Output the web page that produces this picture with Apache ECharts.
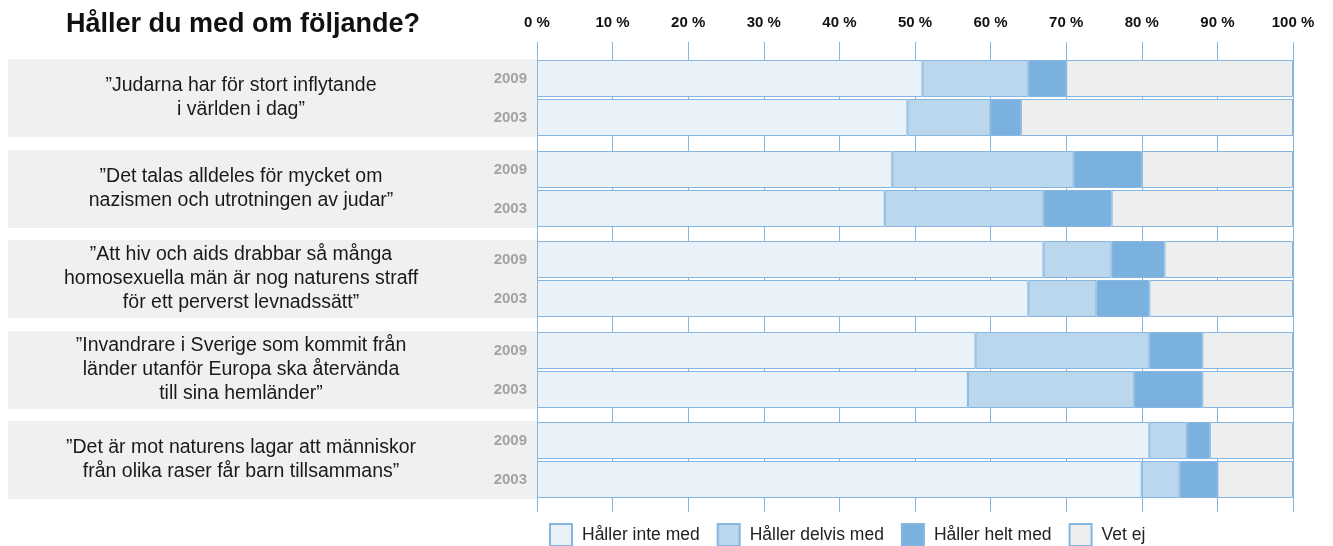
<!DOCTYPE html>
<html>
<head>
<meta charset="utf-8">
<script src="https://cdn.jsdelivr.net/npm/echarts@6/dist/echarts.min.js"></script>
<style>
  html, body { margin: 0; padding: 0; background: #fff; }
  #main { width: 1333px; height: 546px; }
</style>
</head>
<body>
<div id="main"></div>
<script>
var years = ['2009', '2003'];
var questions = [
  '”Judarna har för stort inflytande\ni världen i dag”',
  '”Det talas alldeles för mycket om\nnazismen och utrotningen av judar”',
  '”Att hiv och aids drabbar så många\nhomosexuella män är nog naturens straff\nför ett perverst levnadssätt”',
  '”Invandrare i Sverige som kommit från\nländer utanför Europa ska återvända\ntill sina hemländer”',
  '”Det är mot naturens lagar att människor\nfrån olika raser får barn tillsammans”'
];
// two values per question: 2009, 2003
var inteMed   = [51, 49, 47, 46, 67, 65, 58, 57, 81, 80];
var delvisMed = [14, 11, 24, 21,  9,  9, 23, 22,  5,  5];
var heltMed   = [ 5,  4,  9,  9,  7,  7,  7,  9,  3,  5];
var vetEj     = [30, 36, 20, 24, 17, 19, 12, 12, 11, 10];
var seriesNames = ['Håller inte med', 'Håller delvis med', 'Håller helt med', 'Vet ej'];

var font = '"Liberation Sans", Arial, Helvetica, sans-serif';
var lineBlue = '#86b6df';
var colors = ['#e9f1f9', '#bbd7ed', '#7bb1de', '#edeeee'];
var seriesData = [inteMed, delvisMed, heltMed, vetEj];

var gLeft = 537, gRight = 40;
var groupTop = 59, groupStep = 90.5, groupH = 78;

var grids = [{ left: gLeft, right: gRight, top: 42, bottom: 34 }];
var xAxes = [{
  gridIndex: 0, type: 'value', position: 'top', min: 0, max: 100, interval: 10,
  axisLine: { show: false }, axisTick: { show: false },
  axisLabel: { formatter: '{value} %', color: '#111', fontWeight: 'bold', fontSize: 15, fontFamily: font, margin: 12 },
  splitLine: { show: true, lineStyle: { color: lineBlue, width: 1 } }
}];
var yAxes = [{ gridIndex: 0, type: 'value', show: false }];
var series = [];
var graphics = [];

questions.forEach(function (q, g) {
  var top = Math.round(groupTop + g * groupStep);
  grids.push({ left: gLeft, right: gRight, top: top, height: groupH });
  xAxes.push({ gridIndex: g + 1, type: 'value', min: 0, max: 100, show: false });
  yAxes.push({
    gridIndex: g + 1, type: 'category', data: years, inverse: true,
    axisLine: { show: false }, axisTick: { show: false },
    axisLabel: { color: '#a3a3a3', fontWeight: 'bold', fontSize: 15, fontFamily: font, margin: 10 }
  });
  seriesData.forEach(function (arr, s) {
    series.push({
      name: seriesNames[s], type: 'bar', stack: 'g' + g,
      xAxisIndex: g + 1, yAxisIndex: g + 1,
      data: arr.slice(g * 2, g * 2 + 2),
      barWidth: 37,
      itemStyle: { color: colors[s], borderColor: lineBlue, borderWidth: 1 },
      emphasis: { disabled: true }
    });
  });
  graphics.push({
    type: 'rect', z: -10, silent: true,
    shape: { x: 8, y: top, width: gLeft - 8, height: groupH },
    style: { fill: '#eff0f0' }
  });
  graphics.push({
    type: 'text', silent: true, x: 241, y: top + groupH / 2,
    style: {
      text: q, align: 'center', verticalAlign: 'middle',
      fontSize: 19.5, lineHeight: 24, fontFamily: font, fill: '#1a1a1a'
    }
  });
});

var chart = echarts.init(document.getElementById('main'));
chart.setOption({
  animation: false,
  title: {
    text: 'Håller du med om följande?', left: 61, top: 6,
    textStyle: { fontSize: 27, fontWeight: 'bold', color: '#111', fontFamily: font }
  },
  legend: {
    data: seriesNames, left: 544, top: 518,
    icon: 'rect', itemWidth: 22, itemHeight: 22, itemGap: 17,
    textStyle: { fontSize: 17.5, color: '#222', fontFamily: font, padding: [0, 0, 0, 5] }
  },
  grid: grids,
  xAxis: xAxes,
  yAxis: yAxes,
  graphic: graphics,
  series: series
});
</script>
</body>
</html>
